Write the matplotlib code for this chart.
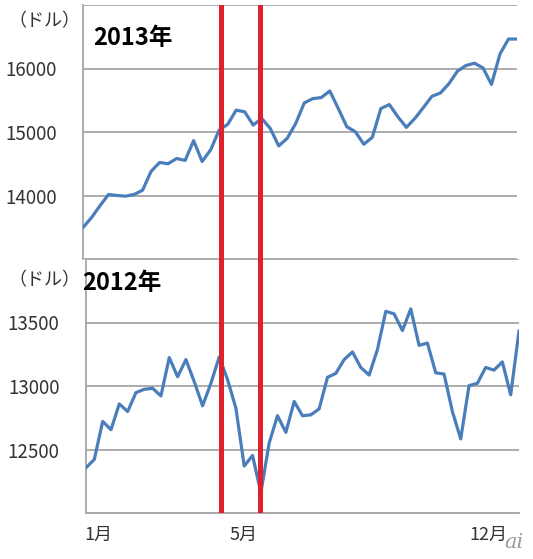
import matplotlib
matplotlib.use('Agg')
import matplotlib.pyplot as plt

plt.rcParams['font.family'] = ['Noto Sans CJK JP', 'DejaVu Sans']

# weekly closes (dollars)
dow_2013 = [13495, 13652, 13840, 14016, 14000, 13990, 14016, 14083, 14380, 14520,
            14500, 14583, 14552, 14864, 14536, 14719, 15031, 15120, 15344, 15318,
            15109, 15214, 15057, 14781, 14901, 15135, 15458, 15526, 15542, 15646,
            15370, 15083, 15005, 14807, 14917, 15370, 15432, 15240, 15073, 15214,
            15385, 15562, 15614, 15760, 15958, 16047, 16083, 16010, 15750, 16229,
            16464, 16464]
dow_2012 = [12357, 12422, 12721, 12656, 12859, 12799, 12948, 12974, 12982, 12922,
            13224, 13073, 13208, 13034, 12844, 13021, 13229, 13050, 12826, 12370,
            12453, 12160, 12552, 12766, 12635, 12878, 12766, 12773, 12820, 13068,
            13099, 13208, 13268, 13146, 13086, 13287, 13588, 13568, 13437, 13607,
            13320, 13338, 13104, 13094, 12799, 12583, 13003, 13021, 13146, 13125,
            13190, 12930, 13432]

ticks_2013 = [13000, 14000, 15000, 16000, 17000]
labels_2013 = ['', '14000', '15000', '16000', '']
ticks_2012 = [12000, 12500, 13000, 13500, 14000]
labels_2012 = ['', '12500', '13000', '13500', '']

month_pos = [1.5, 18.9, 48.3]
month_labels = ['1月', '5月', '12月']
red_weeks = [16.2, 20.85]   # 週の位置 (赤線)

BLUE = '#4a7ebb'
GRID = '#a6a6a6'
RED = '#e0202a'
TXT = '#333333'

W, H = 533, 559
fig = plt.figure(figsize=(W / 100, H / 100), dpi=100)


def px_axes(left, top, right, bottom):
    return fig.add_axes([left / W, 1 - bottom / H, (right - left) / W, (bottom - top) / H])


ax1 = px_axes(83, 5, 517, 259)
ax2 = px_axes(86, 259, 519, 513)

panels = [
    (ax1, dow_2013, ticks_2013, labels_2013, 13000, 17000),
    (ax2, dow_2012, ticks_2012, labels_2012, 12000, 14000),
]
for ax, vals, ticks, labels, lo, hi in panels:
    ax.plot(range(len(vals)), vals, color=BLUE, lw=2.3, zorder=3, solid_joinstyle='round')
    ax.set_xlim(0, len(vals) - 1)
    ax.set_ylim(lo, hi)
    ax.set_yticks(ticks, labels)
    ax.grid(axis='y', color=GRID, lw=1.3)
    ax.tick_params(axis='y', length=0, pad=19, labelsize=13.5, labelcolor=TXT)
    for s in ['top', 'right', 'bottom']:
        ax.spines[s].set_visible(False)
    ax.spines['left'].set_color(GRID)
    ax.spines['left'].set_linewidth(1.3)
    ax.set_facecolor('none')
    for wk in red_weeks:
        ax.axvline(wk, color=RED, lw=3.6, zorder=4)

ax1.xaxis.set_visible(False)
ax2.spines['bottom'].set_visible(True)
ax2.spines['bottom'].set_color(GRID)
ax2.spines['bottom'].set_linewidth(1.3)
ax2.set_xticks(month_pos, month_labels)
ax2.tick_params(axis='x', length=0, pad=9, labelsize=13, labelcolor=TXT)

fig.text(93 / W, 1 - 38 / H, '2013年', fontsize=17, fontweight='bold', color='black', va='center')
fig.text(82 / W, 1 - 283 / H, '2012年', fontsize=17, fontweight='bold', color='black', va='center')
fig.text(8 / W, 1 - 21 / H, '（ドル）', fontsize=13, color=TXT, va='center')
fig.text(8 / W, 1 - 280 / H, '（ドル）', fontsize=13, color=TXT, va='center')
fig.text(504 / W, 1 - 542 / H, 'ai', fontsize=15, color='#9a9a9a', style='italic',
         family='DejaVu Serif', va='center')

fig.savefig('out.png', dpi=100)
